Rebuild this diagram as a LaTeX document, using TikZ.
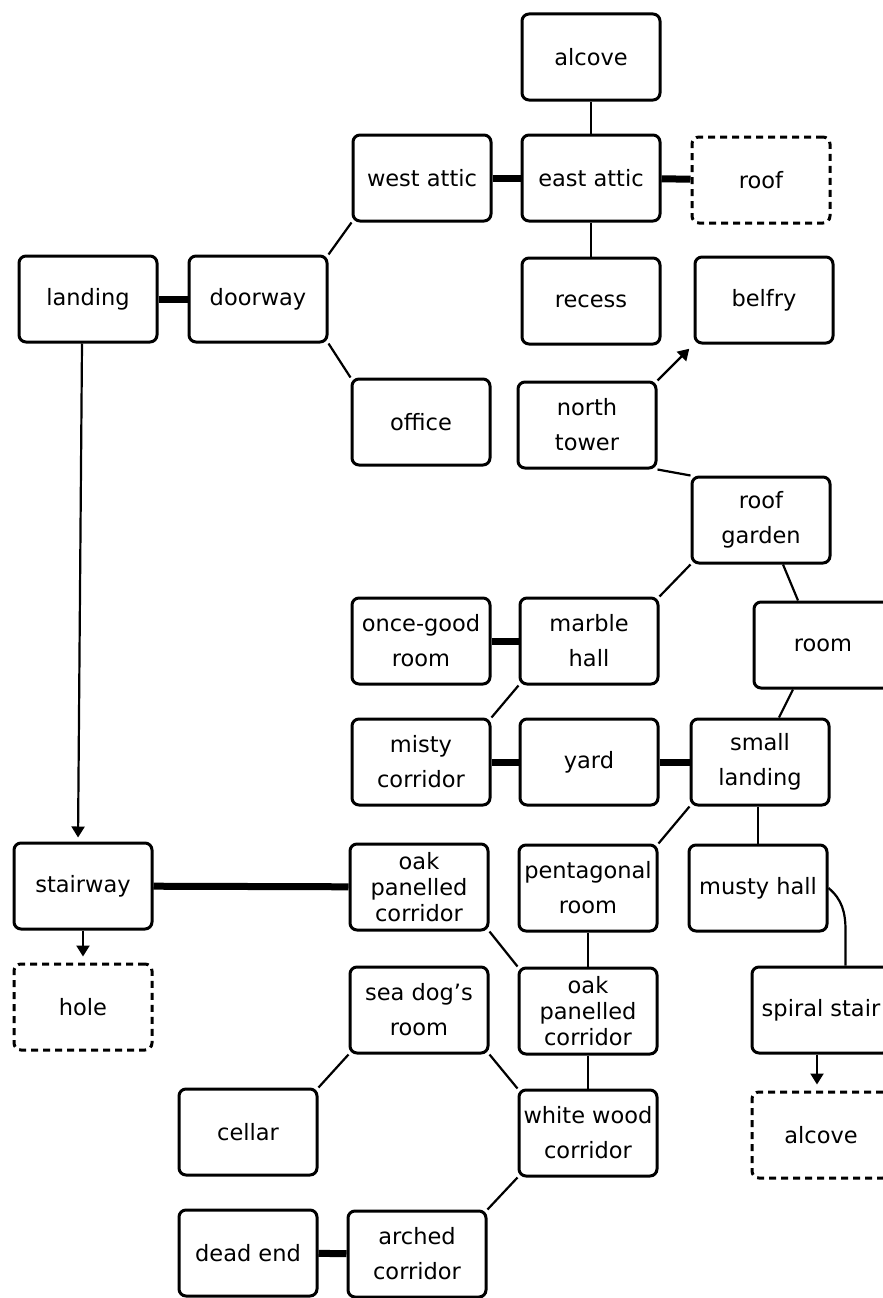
\documentclass[tikz,border=0pt]{standalone}
\usepackage{fontspec}
\setmainfont{DejaVu Sans}
\usetikzlibrary{arrows.meta,calc}
\begin{document}
\begin{tikzpicture}[x=1pt,y=-1pt,
  rbox/.style={draw, line width=3pt, rounded corners=7pt, minimum width=138pt,
    minimum height=86pt, inner sep=0pt, align=center, font=\fontsize{22.5}{35}\selectfont},
  ebox/.style={rbox, dash pattern=on 7pt off 5pt},
  three/.style={font=\fontsize{22.5}{26}\selectfont},
  thinline/.style={line width=2.2pt},
  heavy/.style={line width=7pt},
  arr/.style={thinline, -{Triangle[length=11pt,width=13pt]}}
]
\fill[white] (0,0) rectangle (883,1298);
\clip (0,0) rectangle (883,1298);

% nodes
\node[rbox] (alcove) at (591,57) {alcove};
\node[rbox] (westattic) at (422,178) {west attic};
\node[rbox] (eastattic) at (591,178) {east attic};
\node[ebox] (roof) at (761,180) {roof};
\node[rbox] (landing) at (88,299) {landing};
\node[rbox] (doorway) at (258,299) {doorway};
\node[rbox] (recess) at (591,301) {recess};
\node[rbox] (belfry) at (764,300) {belfry};
\node[rbox] (office) at (421,422) {office};
\node[rbox] (northtower) at (587,425) {north\\tower};
\node[rbox] (roofgarden) at (761,520) {roof\\garden};
\node[rbox] (oncegood) at (421,641) {once-good\\room};
\node[rbox] (marble) at (589,641) {marble\\hall};
\node[rbox] (room) at (823,645) {room};
\node[rbox] (misty) at (421,762) {misty\\corridor};
\node[rbox] (yard) at (589,762) {yard};
\node[rbox] (smalllanding) at (760,762) {small\\landing};
\node[rbox] (stairway) at (83,886) {stairway};
\node[rbox,three] (oakone) at (419,887) {oak\\panelled\\corridor};
\node[rbox] (pent) at (588,888) {pentagonal\\room};
\node[rbox] (musty) at (758,888) {musty hall};
\node[ebox] (hole) at (83,1007) {hole};
\node[rbox] (seadog) at (419,1010) {sea dog's\\room};
\node[rbox,three] (oaktwo) at (588,1011) {oak\\panelled\\corridor};
\node[rbox] (spiral) at (821,1010) {spiral stair};
\node[rbox] (cellar) at (248,1132) {cellar};
\node[rbox] (white) at (588,1133) {white wood\\corridor};
\node[ebox] (alcovetwo) at (821,1135) {alcove};
\node[rbox] (deadend) at (248,1253) {dead end};
\node[rbox] (arched) at (417,1254) {arched\\corridor};

% heavy connectors
\draw[heavy] (landing) -- (doorway);
\draw[heavy] (westattic) -- (eastattic);
\draw[heavy] (eastattic) -- (roof);
\draw[heavy] (oncegood) -- (marble);
\draw[heavy] (misty) -- (yard);
\draw[heavy] (yard) -- (smalllanding);
\draw[heavy] (stairway) -- (oakone);
\draw[heavy] (deadend) -- (arched);

% thin connectors
\draw[thinline] (alcove.south) -- (eastattic.north);
\draw[thinline] (eastattic.south) -- (recess.north);
\draw[thinline] (doorway.north east) -- (westattic.south west);
\draw[thinline] (doorway.south east) -- (office.north west);
\draw[thinline] (northtower.south east) -- (roofgarden.north west);
\draw[thinline] (roofgarden.south west) -- (marble.north east);
\draw[thinline] ($(roofgarden.south)+(22,0)$) -- ($(room.north)+(-25,0)$);
\draw[thinline] (marble.south west) -- (misty.north east);
\draw[thinline] ($(room.south)+(-30,0)$) -- ($(smalllanding.north)+(19,0)$);
\draw[thinline] (smalllanding.south west) -- (pent.north east);
\draw[thinline] (smalllanding.south -| musty.north) -- (musty.north);
\draw[thinline] (pent.south) -- (oaktwo.north);
\draw[thinline] (oakone.south east) -- (oaktwo.north west);
\draw[thinline] (oaktwo.south) -- (white.north);
\draw[thinline] (seadog.south west) -- (cellar.north east);
\draw[thinline] (seadog.south east) -- (white.north west);
\draw[thinline] (white.south west) -- (arched.north east);
\coordinate (bend) at ($(spiral.north west)+(95,-35)$);
\draw[thinline] (musty.east) to[out=-40,in=90] (bend) -- (bend |- spiral.north);

% arrows
\draw[arr, shorten >=4pt] ($(landing.south)+(-6,0)$) -- ($(stairway.north)+(-5,0)$);
\draw[arr, shorten >=6pt] (stairway.south) -- (hole.north);
\draw[arr, shorten >=6pt] (northtower.north east) -- (belfry.south west);
\draw[arr, shorten >=6pt] ($(spiral.south)+(-4,0)$) -- ($(alcovetwo.north)+(-4,0)$);
\end{tikzpicture}
\end{document}
